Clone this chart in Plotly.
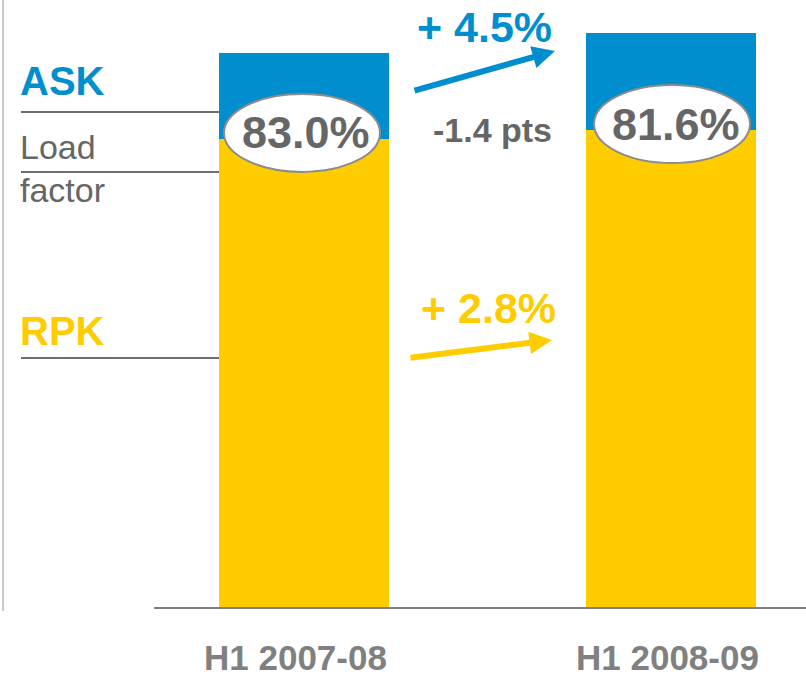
import plotly.graph_objects as go

# ---- data ----
periods = ["H1 2007-08", "H1 2008-09"]
ask = [100.0, 103.6]          # ASK index (2007-08 = 100)
rpk = [84.5, 86.1]            # RPK index
load_factor = [83.0, 81.6]    # %
ask_growth = "+ 4.5%"
rpk_growth = "+ 2.8%"
lf_change = "-1.4 pts"

BLUE = "#008ECE"
YELLOW = "#FFCC00"
DGRAY = "#666666"
TGRAY = "#808080"
FONT = "Arial, Liberation Sans, sans-serif"

x = [0, 1]
gap = [a - r for a, r in zip(ask, rpk)]

fig = go.Figure()
fig.add_trace(go.Bar(x=x, y=rpk, marker=dict(color=YELLOW, line=dict(width=0)),
                     width=0.463, hoverinfo="skip"))
fig.add_trace(go.Bar(x=x, y=gap, marker=dict(color=BLUE, line=dict(width=0)),
                     width=0.463, hoverinfo="skip"))

# plot area geometry (pixels)
L, W, H = 154, 652, 607
def px(v):
    return (v - L) / W
def py(v):
    return (H - v) / H

ann = []
shapes = []

# left frame line
shapes.append(dict(type="line", xref="paper", yref="paper", x0=px(3), x1=px(3),
                   y0=py(0), y1=py(611), line=dict(color="#C8C8C8", width=2)))
# legend rule lines
for yy in (112, 172, 358):
    shapes.append(dict(type="line", xref="paper", yref="paper", x0=px(21), x1=px(219),
                       y0=py(yy), y1=py(yy), line=dict(color="#6E6E6E", width=2)))

def text(t, xx, yy, size, color, bold=True, anchor="center"):
    ann.append(dict(text=t, xref="paper", yref="paper", x=px(xx), y=py(yy),
                    xanchor=anchor, yanchor="middle", showarrow=False,
                    font=dict(family=FONT, size=size, color=color,
                              weight="bold" if bold else "normal")))

# left labels (cap-centre positions)
text("ASK", 18, 81, 40, BLUE, anchor="left")
text("Load", 18, 147, 34, DGRAY, bold=False, anchor="left")
text("factor", 18, 190, 34, DGRAY, bold=False, anchor="left")
text("RPK", 18, 331, 40, YELLOW, anchor="left")

# growth labels
text(ask_growth, 484, 27, 43, BLUE)
text(rpk_growth, 488, 308, 43, YELLOW)
text(lf_change, 492, 130, 34, DGRAY)

# arrows
ann.append(dict(text="", xref="paper", yref="paper", x=px(555), y=py(51),
                axref="pixel", ayref="pixel", ax=-142, ay=40, showarrow=True,
                arrowhead=2, arrowsize=0.75, arrowwidth=6, arrowcolor=BLUE))
ann.append(dict(text="", xref="paper", yref="paper", x=px(552), y=py(340),
                axref="pixel", ayref="pixel", ax=-143, ay=18, showarrow=True,
                arrowhead=2, arrowsize=0.75, arrowwidth=6, arrowcolor=YELLOW))

# load factor ellipses anchored at the RPK top of each bar
xoff = [-2, 1]
for i in range(2):
    shapes.append(dict(type="circle", xref="x", yref="y", xsizemode="pixel",
                       ysizemode="pixel", xanchor=x[i], yanchor=rpk[i],
                       x0=xoff[i] - 78, x1=xoff[i] + 78, y0=-33, y1=45,
                       fillcolor="white", line=dict(color="#8C8C8C", width=2)))
    ann.append(dict(text=f"{load_factor[i]:.1f}%", xref="x", yref="y", x=x[i], y=rpk[i],
                    xshift=xoff[i] + 4, yshift=6, xanchor="center", yanchor="middle",
                    showarrow=False,
                    font=dict(family=FONT, size=45, color=DGRAY, weight="bold")))

# category labels
lab_shift = [-9, -4]
for i in range(2):
    ann.append(dict(text=periods[i], xref="x", yref="paper", x=x[i], y=py(657),
                    xshift=lab_shift[i], xanchor="center", yanchor="middle",
                    showarrow=False,
                    font=dict(family=FONT, size=35, color=TGRAY, weight="bold")))

fig.update_layout(
    barmode="stack", showlegend=False,
    width=806, height=676,
    margin=dict(l=L, r=0, t=0, b=676 - H, pad=0),
    paper_bgcolor="white", plot_bgcolor="white",
    xaxis=dict(range=[-0.4087, 1.3678], showgrid=False, zeroline=False,
               showticklabels=False, ticks="", showline=True, linecolor=TGRAY,
               linewidth=2, fixedrange=True),
    yaxis=dict(range=[0, 109.57], showgrid=False, zeroline=False, visible=False,
               fixedrange=True),
    annotations=ann, shapes=shapes,
)
fig.write_html("out.html", config={"displayModeBar": False},
               post_script="document.body.style.margin='0';document.body.style.overflow='hidden';")
